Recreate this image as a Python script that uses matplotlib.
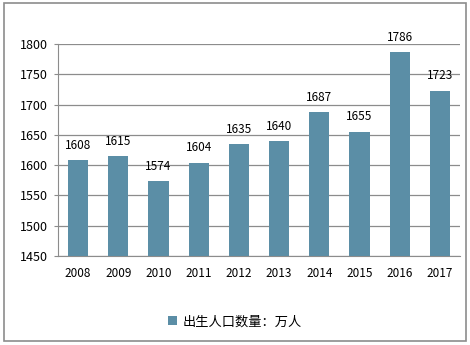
import matplotlib.pyplot as plt
from matplotlib.patches import Rectangle

plt.rcParams['font.family'] = ['Noto Sans CJK SC', 'DejaVu Sans']

years = ['2008', '2009', '2010', '2011', '2012', '2013', '2014', '2015', '2016', '2017']
births = [1608, 1615, 1574, 1604, 1635, 1640, 1687, 1655, 1786, 1723]
label = '出生人口数量：万人'

bar_color = '#5B8EA6'
grid_color = '#8C8C8C'

fig = plt.figure(figsize=(4.7, 3.45), dpi=100)
ax = fig.add_axes([0.1234, 0.258, 0.8553, 0.6145])

bars = ax.bar(years, births, width=0.5, color=bar_color, label=label, zorder=3)
for b, v in zip(bars, births):
    ax.annotate(str(v), (b.get_x() + b.get_width() / 2, v), xytext=(0, 6),
                textcoords='offset points', ha='center', va='bottom', fontsize=8.5)

ax.set_ylim(1450, 1800)
ax.set_yticks(range(1450, 1801, 50))
ax.set_xlim(-0.5, len(years) - 0.5)
ax.grid(axis='y', color=grid_color, linewidth=0.9, zorder=0)
for s in ['top', 'right']:
    ax.spines[s].set_visible(False)
for s in ['left', 'bottom']:
    ax.spines[s].set_color(grid_color)
ax.tick_params(axis='y', length=3, color=grid_color, labelsize=9, pad=4)
ax.tick_params(axis='x', length=0, labelsize=8.5, pad=8)

ax.legend(loc='center', bbox_to_anchor=(0.5, 0.067), bbox_transform=fig.transFigure,
          frameon=False, fontsize=9.5, handlelength=0.7, handleheight=0.7, handletextpad=0.4)

fig.patches.append(Rectangle((0.009, 0.012), 0.982, 0.98, transform=fig.transFigure,
                             fill=False, edgecolor='#8C8C8C', linewidth=1.2))

fig.savefig('out.png', dpi=100)
